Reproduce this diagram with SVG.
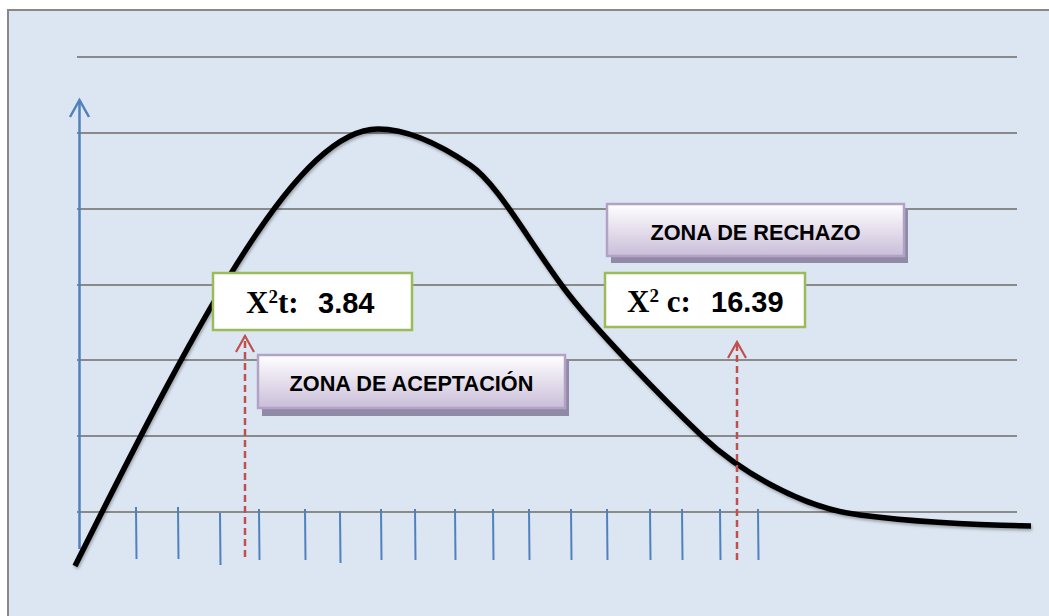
<svg xmlns="http://www.w3.org/2000/svg" width="1049" height="616" viewBox="0 0 1049 616">
<defs>
<linearGradient id="zoneGrad" x1="0" y1="0" x2="0" y2="1">
<stop offset="0" stop-color="#ffffff"/>
<stop offset="1" stop-color="#cabed9"/>
</linearGradient>
<filter id="curveShadow" x="-5%" y="-5%" width="110%" height="115%">
<feDropShadow dx="1" dy="2" stdDeviation="1.5" flood-color="#000" flood-opacity="0.3"/>
</filter>
<marker id="redHead" viewBox="0 0 20 20" refX="18" refY="10" markerWidth="20" markerHeight="20" markerUnits="userSpaceOnUse" orient="auto">
<path d="M2,1 L18,10 L2,19" fill="none" stroke="#c0504d" stroke-width="2.2"/>
</marker>
</defs>
<style>
.grid{stroke:#8a8a8a;stroke-width:2;fill:none}
.tick{stroke:#4f81bd;stroke-width:2;fill:none}
.axis{stroke:#4f81bd;stroke-width:2.5;fill:none}
.red{stroke:#c0504d;stroke-width:2.5;stroke-dasharray:7 4;fill:none}
.valbox{fill:#ffffff;stroke:#9bbb59;stroke-width:2.5}
.zonebox{fill:url(#zoneGrad);stroke:#b3a2c7;stroke-width:2.5}
.zoneshadow{fill:#918aa6}
.zonetxt{font-family:"Liberation Sans",Arial,sans-serif;font-weight:bold;font-size:21.7px;fill:#000;text-anchor:middle}
.serif{font-family:"Liberation Serif","Times New Roman",serif;font-weight:bold}
.sans{font-family:"Liberation Sans",Arial,sans-serif;font-weight:bold}
</style>
<rect x="8" y="10" width="1060" height="620" fill="#dce6f2" stroke="#888888" stroke-width="2"/>
<g id="grid">
<line class="grid" x1="77" y1="57" x2="1017" y2="57"/>
<line class="grid" x1="77" y1="133" x2="1017" y2="133"/>
<line class="grid" x1="77" y1="209" x2="1017" y2="209"/>
<line class="grid" x1="77" y1="285" x2="1017" y2="285"/>
<line class="grid" x1="77" y1="360" x2="1017" y2="360"/>
<line class="grid" x1="77" y1="436" x2="1017" y2="436"/>
<line class="grid" x1="77" y1="512" x2="1017" y2="512"/>
</g>
<g id="y-axis">
<line class="axis" x1="79.5" y1="549" x2="79.5" y2="100"/>
<path class="axis" d="M70,117 L79.5,100 L89,117"/>
</g>
<g id="ticks">
<line class="tick" x1="136" y1="507" x2="136.5" y2="559"/>
<line class="tick" x1="178" y1="507" x2="178.5" y2="559"/>
<line class="tick" x1="220" y1="513" x2="220.5" y2="565"/>
<line class="tick" x1="259" y1="509" x2="259.5" y2="560"/>
<line class="tick" x1="305" y1="509" x2="305.5" y2="560"/>
<line class="tick" x1="340" y1="511" x2="340.5" y2="563"/>
<line class="tick" x1="381" y1="509" x2="381.5" y2="560"/>
<line class="tick" x1="415" y1="509" x2="415.5" y2="560"/>
<line class="tick" x1="455" y1="509" x2="455.5" y2="560"/>
<line class="tick" x1="493" y1="509" x2="493.5" y2="560"/>
<line class="tick" x1="529" y1="509" x2="529.5" y2="560"/>
<line class="tick" x1="571" y1="509" x2="571.5" y2="560"/>
<line class="tick" x1="607" y1="509" x2="607.5" y2="560"/>
<line class="tick" x1="650" y1="509" x2="650.5" y2="560"/>
<line class="tick" x1="682" y1="509" x2="682.5" y2="560"/>
<line class="tick" x1="720" y1="509" x2="720.5" y2="560"/>
<line class="tick" x1="758" y1="509" x2="758.5" y2="560"/>
</g>
<g id="curve">
<path d="M75,566 C205,305 300,129 378,129 C410,129 445,148 470,165 C497,183 527,238.4 563,287 C593,327.5 666,401.8 702,436 C736,468.3 800,508 860,515 C900,520 960,525 1031,526" fill="none" stroke="#000" stroke-width="5.5" filter="url(#curveShadow)"/>
</g>
<g id="connectors">
<line class="red" x1="245" y1="557" x2="245" y2="336" marker-end="url(#redHead)"/>
<line class="red" x1="737" y1="560" x2="737" y2="342" marker-end="url(#redHead)"/>
</g>
<g id="node-x2t">
<rect class="valbox" x="213" y="273" width="199" height="57"/>
<text x="246" y="313" font-size="31"><tspan class="serif">X</tspan><tspan class="serif" font-size="19" dy="-10">2</tspan><tspan class="serif" dy="10">t:</tspan><tspan class="sans" font-size="29" x="318">3.84</tspan></text>
</g>
<g id="node-x2c">
<rect class="valbox" x="605" y="273" width="200" height="54"/>
<text x="627" y="312" font-size="31"><tspan class="serif">X</tspan><tspan class="serif" font-size="19" dy="-10">2</tspan><tspan class="serif" dy="10"> c:</tspan><tspan class="sans" font-size="29" x="711">16.39</tspan></text>
</g>
<g id="node-aceptacion">
<rect class="zoneshadow" x="262" y="360" width="307" height="56"/>
<rect class="zonebox" x="258" y="355" width="307" height="53"/>
<text class="zonetxt" x="411.5" y="391">ZONA DE ACEPTACIÓN</text>
</g>
<g id="node-rechazo">
<rect class="zoneshadow" x="611" y="209" width="297" height="54"/>
<rect class="zonebox" x="607" y="204" width="297" height="52"/>
<text class="zonetxt" x="755.5" y="240">ZONA DE RECHAZO</text>
</g>
</svg>
